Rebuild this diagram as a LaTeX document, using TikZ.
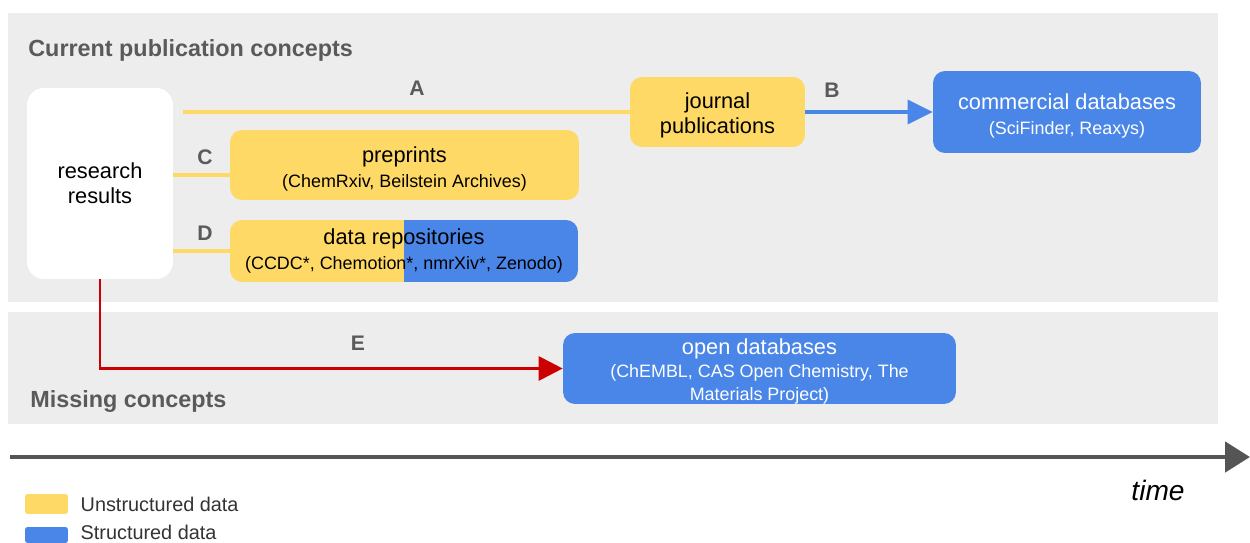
\documentclass[tikz,border=0pt]{standalone}
\usepackage{fontspec}
\setmainfont{Liberation Sans}
\usepackage{tikz}
\usetikzlibrary{arrows.meta, positioning, calc}
\definecolor{gyellow}{RGB}{255,217,102}
\definecolor{gblue}{RGB}{74,134,232}
\definecolor{gred}{RGB}{204,0,0}
\definecolor{panelgray}{RGB}{237,237,237}
\definecolor{textgray}{RGB}{90,90,90}
\definecolor{axisgray}{RGB}{85,85,85}
\newcommand{\mainsize}{\fontsize{12.4}{14.2}\selectfont}
\newcommand{\subsize}{\fontsize{10.2}{12.6}\selectfont}

\begin{document}
\begin{tikzpicture}[x=0.02cm, y=-0.02cm,
    box/.style={rectangle, rounded corners=0.24cm, align=center, inner sep=2pt, font=\mainsize},
    ybox/.style={box, fill=gyellow, text=black},
    bbox/.style={box, fill=gblue, text=white},
    lbl/.style={font=\fontsize{12}{14}\selectfont\bfseries, text=textgray},
    title/.style={font=\fontsize{13.3}{16}\selectfont\bfseries, text=textgray, anchor=base west, inner sep=0pt},
    yline/.style={draw=gyellow, line width=1.8pt},
    barrow/.style={draw=gblue, line width=2pt, -{Triangle[length=5mm, width=4.8mm]}},
    rarrow/.style={draw=gred, line width=1.7pt, -{Triangle[length=4.8mm, width=4.8mm]}},
    legbox/.style={rectangle, rounded corners=1.5pt, minimum width=0.86cm, minimum height=0.4cm, inner sep=0pt},
    legtext/.style={font=\fontsize{11.3}{13}\selectfont, text=black!80, inner sep=0pt}]

\useasboundingbox (0,0) rectangle (1250,543);

% panels
\fill[panelgray] (8,13) rectangle (1218,302);
\fill[panelgray] (8,312) rectangle (1218,424);
\node[title] (curtitle) at (28,57) {Current publication concepts};
\node[title] (misstitle) at (30,408) {Missing concepts};

% boxes
\node (research)   [box, fill=white, rounded corners=0.34cm, minimum width=2.92cm, minimum height=3.82cm]
                   at (100,183.5) {research\\results};
\node (journal)    [ybox, minimum width=3.5cm, minimum height=1.4cm]  at (717.5,112)
                   {\rule{0pt}{13pt}journal\\publications};
\node (commercial) [bbox, minimum width=5.36cm, minimum height=1.64cm] at (1067,112)
                   {\rule{0pt}{14pt}commercial databases\\\subsize (SciFinder, Reaxys)};
\node (preprints)  [ybox, minimum width=6.98cm, minimum height=1.4cm]  at (404.5,165)
                   {\rule{0pt}{14pt}preprints\\\subsize (ChemRxiv, Beilstein Archives)};
\node (datarepo)   [ybox, minimum width=6.96cm, minimum height=1.24cm,
                    path picture={\fill[gblue, sharp corners] (path picture bounding box.north) rectangle (path picture bounding box.south east);}]
                   at (404,251) {data repositories\\\subsize (CCDC*, Chemotion*, nmrXiv*, Zenodo)};
\node (opendb)     [bbox, inner ysep=0pt, font=\fontsize{12.4}{13}\selectfont,
                    minimum width=7.86cm, minimum height=1.42cm] at (759.5,368.5)
                   {\rule{0pt}{12pt}open databases\\\subsize (ChEMBL, CAS Open Chemistry, The\\\subsize Materials Project)};

% connectors
\coordinate (startA) at (183,112);
\draw[yline] (startA) -- (journal.west);
\draw[barrow] (journal.east) -- (commercial.west);
\draw[yline] ($(research.east |- preprints.west)+(0,10)$) -- ($(preprints.west)+(0,10)$);
\draw[yline] (research.east |- datarepo.west) -- (datarepo.west);
\draw[rarrow] (research.south) |- (opendb.west);

% letters
\node[lbl] (labA) at (417,88)  {A};
\node[lbl] (labB) at (832,90)  {B};
\node[lbl] (labC) at (205,157) {C};
\node[lbl] (labD) at (205,233) {D};
\node[lbl] (labE) at (358,343) {E};

% time axis
\coordinate (tstart) at (10,457);
\coordinate (tend)   at (1250,457);
\draw[draw=axisgray, line width=2.8pt, -{Triangle[length=5mm, width=6mm]}] (tstart) -- (tend);
\node (timetxt) [font=\fontsize{16}{18}\selectfont\itshape] at (1158,490) {time};

% legend
\node (legU) [legbox, fill=gyellow] at (46.5,504) {};
\node (legS) [legbox, fill=gblue, minimum height=0.32cm] at (46.5,535) {};
\node (legUtxt) [legtext, right=0.24cm of legU] {Unstructured data};
\node (legStxt) [legtext, right=0.24cm of legS, yshift=0.06cm] {Structured data};
\end{tikzpicture}
\end{document}
